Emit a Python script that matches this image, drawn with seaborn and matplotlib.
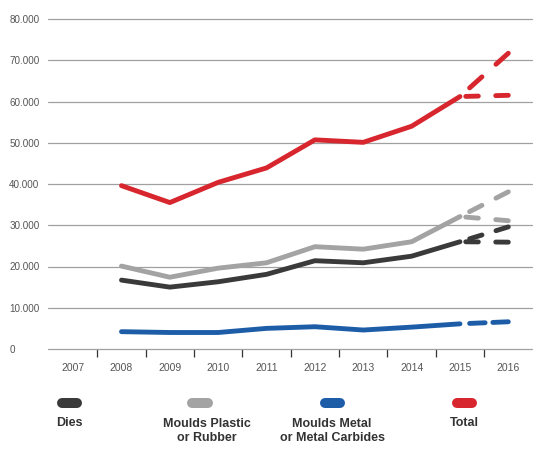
import numpy as np
import pandas as pd
import seaborn as sns
import matplotlib.pyplot as plt
from matplotlib.lines import Line2D

# categories on the x axis
years = [2007, 2008, 2009, 2010, 2011, 2012, 2013, 2014, 2015, 2016]
hist_years = [2008, 2009, 2010, 2011, 2012, 2013, 2014, 2015]

# actual values 2008-2015
dies = [16700, 15000, 16300, 18100, 21400, 20900, 22500, 26000]
plastic = [20100, 17400, 19600, 20900, 24800, 24200, 26000, 32100]
metal = [4200, 4000, 4000, 5000, 5400, 4600, 5300, 6100]
total = [39600, 35500, 40400, 43900, 50700, 50100, 54000, 61200]

# 2016 outlook (high, flat) - drawn dashed from 2015
dies_2016 = [29600, 25900]
plastic_2016 = [38100, 31100]
metal_2016 = [6600]
total_2016 = [71700, 61500]

names = ["Dies", "Moulds Plastic\nor Rubber", "Moulds Metal\nor Metal Carbides", "Total"]
colors = ["#3a3a3a", "#a3a3a3", "#1d5da8", "#d7262e"]
y_ticks = [0, 10000, 20000, 30000, 40000, 50000, 60000, 70000, 80000]

sns.set_theme(style="white")
plt.rcParams["font.family"] = ["Liberation Sans", "DejaVu Sans"]

W, H = 540, 454
fig = plt.figure(figsize=(W / 100, H / 100), dpi=100)
ax = fig.add_axes([48 / W, 1 - 349 / H, (532 - 48) / W, 330 / H])
ax.set_xlim(2007 - 0.52, 2007 + 9.49)
ax.set_ylim(0, 80000)

# long table for the solid part
rows = []
for name, vals in zip(names, [dies, plastic, metal, total]):
    for yr, v in zip(hist_years, vals):
        rows.append({"year": yr, "value": v, "series": name})
df = pd.DataFrame(rows)

lw = 3.5
sns.lineplot(data=df, x="year", y="value", hue="series", palette=dict(zip(names, colors)),
             linewidth=lw, legend=False, ax=ax, solid_capstyle="round", zorder=3)


def fitted_dashes(x0, y0, x1, y1, lead, gap):
    # two dashes that fill the segment: leading gap, dash, gap, dash (fractions of length)
    p0 = ax.transData.transform((x0, y0))
    p1 = ax.transData.transform((x1, y1))
    length = np.hypot(*(p1 - p0)) * 72 / 100 / lw
    g0 = lead * length
    off = gap * length
    on = (length - g0 - off) / 2
    tail = g0 + 20
    return (on + off + on + tail - g0, (on, off, on, tail))


# dashed outlook lines
for name, vals, proj, col in zip(names, [dies, plastic, metal, total],
                                 [dies_2016, plastic_2016, metal_2016, total_2016], colors):
    for i, p in enumerate(proj):
        if name.startswith("Moulds Metal"):
            lead, gap = 0.2, 0.16
        elif i == 0:
            lead, gap = 0.2, 0.29
        else:
            lead, gap = 0.12, 0.36
        ls = fitted_dashes(2015, vals[-1], 2016, p, lead, gap)
        seg = pd.DataFrame({"year": [2015, 2016], "value": [vals[-1], p]})
        sns.lineplot(data=seg, x="year", y="value", color=col, linewidth=lw, linestyle=ls,
                     dash_capstyle="round", ax=ax, zorder=3)

for s in ax.spines.values():
    s.set_visible(False)

ax.set_yticks(y_ticks, [f"{v:,}".replace(",", ".") for v in y_ticks])
ax.yaxis.grid(True, color="#a0a0a0", linewidth=0.9)
for gl in ax.get_ygridlines():
    gl.set_clip_on(False)
ax.set_axisbelow(True)
ax.tick_params(axis="y", length=0, pad=27.9, labelsize=7.1, labelcolor="#555555")
plt.setp(ax.get_yticklabels(), ha="left")

ax.set_xticks(years, [str(y) for y in years])
ax.set_xticks([y + 0.5 for y in years[:-1]], minor=True)
ax.tick_params(axis="x", which="major", length=0, pad=10.3, labelsize=7.5, labelcolor="#555555")
ax.tick_params(axis="x", which="minor", bottom=True, length=5.8, width=0.9, color="#333333",
               direction="out")
ax.set_xlabel("")
ax.set_ylabel("")

# legend: pill markers with bold labels underneath
pill_x = [69, 200, 332.5, 464]
text_x = [69, 206.5, 332, 464]
for name, col, px, tx in zip(names, colors, pill_x, text_x):
    fig.add_artist(Line2D([(px - 7.5) / W, (px + 7.5) / W], [1 - 403 / H] * 2,
                          transform=fig.transFigure, color=col, linewidth=7.2,
                          solid_capstyle="round"))
    ty = 431.3 if "\n" in name else 422.7
    fig.text(tx / W, 1 - ty / H, name, ha="center", va="center", fontsize=9,
             fontweight="bold", color="#333333", linespacing=1.2)

fig.savefig("out.png", dpi=100)
